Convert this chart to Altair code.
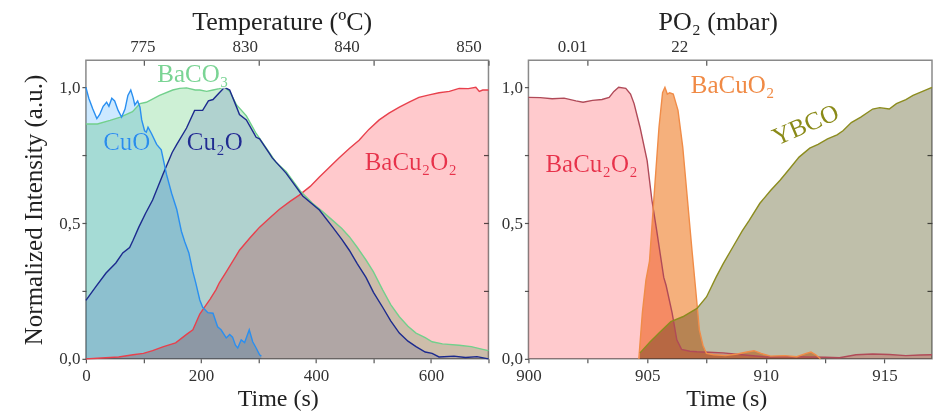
import altair as alt
import pandas as pd

FONT = "Liberation Serif"

# ---------------- Left panel data (Time in s) ----------------
cuo_t = [0, 5, 12, 19, 24, 30, 36, 40, 45, 50, 56, 62, 68, 73, 78, 82, 85, 90, 94, 97, 102, 105, 108, 114,
         123, 131, 140, 149, 158, 166, 172, 179, 186, 191, 198, 203, 212, 221, 229, 235, 244, 250, 255, 260,
         264, 270, 276, 284, 290, 296, 302, 305]
cuo_v = [1.0, 0.96, 0.92, 0.885, 0.90, 0.93, 0.945, 0.93, 0.96, 0.95, 0.915, 0.89, 0.92, 0.97, 0.99, 0.963,
         0.935, 0.95, 0.927, 0.88, 0.84, 0.835, 0.853, 0.83, 0.79, 0.77, 0.68, 0.61, 0.55, 0.47, 0.43, 0.39,
         0.32, 0.28, 0.217, 0.19, 0.17, 0.168, 0.118, 0.107, 0.077, 0.09, 0.08, 0.05, 0.04, 0.07, 0.06, 0.107,
         0.063, 0.04, 0.015, 0.01]

baco3_t = [0, 20, 42, 60, 81, 94, 105, 128, 151, 163, 175, 190, 198, 210, 221, 232, 241, 250, 262, 279, 296,
           314, 330, 348, 374, 394, 410, 429, 445, 458, 472, 487, 500, 516, 530, 545, 560, 574, 590, 602, 620,
           649, 670, 690, 700]
baco3_v = [0.865, 0.865, 0.878, 0.89, 0.91, 0.94, 0.945, 0.97, 0.99, 0.996, 0.998, 0.99, 0.99, 0.985, 0.99,
           0.995, 1.0, 0.985, 0.935, 0.895, 0.83, 0.775, 0.725, 0.69, 0.615, 0.573, 0.545, 0.51, 0.48, 0.45,
           0.41, 0.364, 0.32, 0.254, 0.2, 0.155, 0.12, 0.095, 0.078, 0.063, 0.055, 0.05, 0.045, 0.035, 0.03]

cu2o_t = [0, 17, 35, 52, 64, 76, 82, 92, 104, 116, 134, 150, 158, 175, 189, 203, 213, 221, 232, 241, 250,
          262, 267, 279, 296, 302, 319, 324, 348, 377, 406, 429, 445, 458, 472, 487, 500, 516, 530, 545, 560,
          574, 590, 602, 614, 640, 660, 680, 700]
cu2o_v = [0.215, 0.265, 0.316, 0.353, 0.39, 0.41, 0.437, 0.485, 0.537, 0.585, 0.68, 0.76, 0.79, 0.85, 0.915,
          0.915, 0.95, 0.955, 0.98, 1.0, 0.99, 0.927, 0.90, 0.88, 0.816, 0.81, 0.757, 0.74, 0.684, 0.60, 0.548,
          0.485, 0.44, 0.40, 0.35, 0.30, 0.245, 0.19, 0.14, 0.095, 0.065, 0.045, 0.025, 0.02, 0.007, 0.01,
          0.005, 0.008, 0.0]

bacu2o2_t = [0, 20, 42, 57, 82, 100, 116, 135, 156, 175, 186, 198, 203, 216, 226, 232, 244, 267, 285, 302,
             320, 336, 355, 371, 390, 406, 423, 440, 458, 475, 492, 510, 527, 545, 562, 579, 597, 614, 632,
             649, 665, 678, 684, 690, 700]
bacu2o2_v = [0.0, 0.002, 0.005, 0.007, 0.015, 0.02, 0.03, 0.045, 0.059, 0.09, 0.107, 0.165, 0.18, 0.22,
             0.254, 0.28, 0.32, 0.40, 0.445, 0.485, 0.52, 0.55, 0.58, 0.603, 0.635, 0.67, 0.705, 0.74, 0.775,
             0.805, 0.845, 0.88, 0.905, 0.927, 0.945, 0.963, 0.972, 0.98, 0.985, 0.996, 0.995, 1.0, 0.985,
             0.99, 0.99]

# ---------------- Right panel data (Time in s) ----------------
r_bacu2o2_t = [900.0, 900.5, 901.0, 901.5, 902.0, 902.3, 902.7, 903.1, 903.4, 903.6, 903.8, 904.1, 904.3,
               904.45, 904.7, 905.0, 905.2, 905.4, 905.7, 905.8, 906.05, 906.25, 906.45, 906.8, 907.1, 907.6,
               908.2, 909.0, 910.0, 911.0, 911.7, 912.5, 913.1, 913.8, 914.5, 915.2, 915.9, 916.5, 917.0]
r_bacu2o2_v = [0.963, 0.962, 0.958, 0.96, 0.95, 0.945, 0.952, 0.955, 0.963, 0.985, 1.0, 0.996, 0.975, 0.94,
               0.853, 0.73, 0.585, 0.474, 0.30, 0.27, 0.17, 0.07, 0.035, 0.028, 0.026, 0.024, 0.022, 0.015,
               0.007, 0.008, 0.007, 0.006, 0.004, 0.015, 0.018, 0.016, 0.012, 0.014, 0.015]

bacuo2_t = [904.65, 904.8, 904.95, 905.1, 905.3, 905.5, 905.65, 905.75, 905.85, 905.95, 906.1, 906.3, 906.5,
            906.7, 906.9, 907.05, 907.2, 907.35, 907.5, 907.8, 908.3, 908.8, 909.2, 909.5, 909.8, 910.2,
            910.8, 911.3, 911.7, 911.9, 912.1, 912.3]
bacuo2_v = [0.0, 0.17, 0.29, 0.36, 0.61, 0.853, 0.98, 1.0, 0.975, 0.98, 0.975, 0.915, 0.78, 0.585, 0.39, 0.25,
            0.107, 0.05, 0.02, 0.015, 0.012, 0.018, 0.025, 0.03, 0.02, 0.01, 0.012, 0.008, 0.02, 0.025, 0.015,
            0.0]

ybco_t = [904.7, 905.1, 905.5, 906.0, 906.5, 907.1, 907.5, 907.9, 908.2, 908.6, 909.0, 909.3, 909.75, 910.2,
          910.6, 911.0, 911.4, 911.85, 912.2, 912.6, 913.0, 913.25, 913.6, 914.0, 914.5, 914.8, 915.2, 915.5,
          915.9, 916.2, 916.6, 917.0]
ybco_v = [0.022, 0.06, 0.095, 0.137, 0.155, 0.186, 0.228, 0.30, 0.35, 0.41, 0.47, 0.51, 0.573, 0.62, 0.658,
          0.70, 0.743, 0.776, 0.79, 0.81, 0.825, 0.84, 0.87, 0.89, 0.92, 0.925, 0.92, 0.94, 0.955, 0.97,
          0.985, 1.0]

# ---------------- Labels ----------------
left_names = ["BaCu2O2", "BaCO3", "Cu2O", "CuO"]
left_fill = ["#ffc9cc", "#cdf0d5", "#dbe0f8", "#cde9ff"]
left_line = ["#e8404c", "#72d08c", "#1c2a8e", "#2a8ff0"]

right_names = ["rBaCu2O2", "BaCuO2", "YBCO"]
right_fill = ["#ffcacd", "#f5b07c", "#bfbfaa"]
right_line = ["#b04a58", "#f08c48", "#8c8c1e"]

left_lab_text = ["BaCO₃", "CuO", "Cu₂O", "BaCu₂O₂"]
left_lab_t = [186, 71, 224, 565]
left_lab_v = [1.02, 0.768, 0.768, 0.695]
left_lab_col = ["#7ad494", "#2a8fe8", "#1e2d8f", "#e8324a"]
left_lab_halo = [3, 0, 0, 0]

right_lab_text = ["BaCu₂O₂", "BaCuO₂", "YBCO"]
right_lab_t = [902.66, 908.6, 911.8]
right_lab_v = [0.687, 0.978, 0.835]
right_lab_col = ["#e8324a", "#f08a45", "#8a8a18"]
right_lab_angle = [0, 0, 337]
right_lab_halo = [0, 0, 3]

temp_ticks = [100, 300, 500, 700]
temp_label_t = [99, 277, 454, 666]
temp_labels = ["775", "830", "840", "850"]

po2_ticks = [902.5, 907.5]
po2_label_t = [901.86, 906.37]
po2_labels = ["0.01", "22"]


def long(series):
    rows = []
    for name, ts, vs in series:
        for t, v in zip(ts, vs):
            rows.append({"s": name, "t": t, "v": v})
    return pd.DataFrame(rows)


YLABEL = "(datum.value * 4) % 2 == 0 ? replace(format(datum.value, '.1f'), '.', ',') : ''"
INWARD = {"expr": "-5"}
H = 299


def panel(df, names, fills, lines, xdom, xvals, xlabelexpr, topticks, lab_df, toplab_df, title, title_dx,
          ytitle, W, xtitle_x):
    xs = alt.Scale(domain=xdom, nice=False, zero=False)
    ys = alt.Scale(domain=[0, 1.1], nice=False)
    yaxis_left = alt.Axis(orient="left", values=[0, 0.25, 0.5, 0.75, 1.0], labelExpr=YLABEL,
                          title=ytitle, domain=False, tickSize=4, labelPadding=2, titlePadding=12,
                          labelFlush=False)
    area = alt.Chart(df).mark_area(blend="multiply", interpolate="linear").encode(
        x=alt.X("t:Q", scale=xs, axis=alt.Axis(orient="bottom", values=xvals, labelExpr=xlabelexpr,
                                                 title="Time (s)", titleFontSize=24, domain=False,
                                                 tickSize=4, labelPadding=5, titlePadding=3,
                                                 labelFlush=False, titleX=xtitle_x)),
        y=alt.Y("v:Q", scale=ys, stack=None, axis=yaxis_left),
        fill=alt.Fill("s:N", scale=alt.Scale(domain=names, range=fills), legend=None),
    )
    line = alt.Chart(df).mark_line(strokeWidth=1.4, interpolate="linear").encode(
        x=alt.X("t:Q", scale=xs, axis=alt.Axis(orient="top", values=topticks, labels=False,
                                                 tickSize=INWARD, domain=False, title=None)),
        y=alt.Y("v:Q", scale=ys, axis=alt.Axis(orient="right", values=[0.25, 0.5, 0.75], labels=False,
                                                 tickSize=INWARD, domain=False, title=None)),
        stroke=alt.Stroke("s:N", scale=alt.Scale(domain=names, range=lines), legend=None),
    )
    halo = alt.Chart(lab_df).mark_text(font=FONT, fontSize=25, align="center", baseline="alphabetic",
                                       stroke="white", strokeJoin="round", opacity=0.9).encode(
        x=alt.X("t:Q", scale=xs, axis=None),
        y=alt.Y("v:Q", scale=ys, axis=None),
        text="text:N",
        color=alt.value("white"),
        strokeWidth=alt.StrokeWidth("h:Q", scale=None),
        angle=alt.Angle("a:Q", scale=None),
    )
    labels = alt.Chart(lab_df).mark_text(font=FONT, fontSize=25, align="center",
                                         baseline="alphabetic").encode(
        x=alt.X("t:Q", scale=xs, axis=None),
        y=alt.Y("v:Q", scale=ys, axis=None),
        text="text:N",
        color=alt.Color("c:N", scale=None),
        angle=alt.Angle("a:Q", scale=None),
    )
    toplab = alt.Chart(toplab_df).mark_text(font=FONT, fontSize=17, align="center", baseline="alphabetic",
                                            color="#333").encode(
        x=alt.X("t:Q", scale=xs, axis=None),
        y=alt.value(-8),
        text="label:N",
    )
    return alt.layer(area, line, halo, labels, toplab).resolve_axis(x="independent", y="independent").properties(
        width=W, height=H,
        title=alt.Title(title, font=FONT, fontSize=26, fontWeight="normal", color="#222", offset=3,
                        dx=title_dx),
    )


left_df = long([("BaCu2O2", bacu2o2_t, bacu2o2_v), ("BaCO3", baco3_t, baco3_v),
                ("Cu2O", cu2o_t, cu2o_v), ("CuO", cuo_t, cuo_v)])
right_df = long([("rBaCu2O2", r_bacu2o2_t, r_bacu2o2_v), ("BaCuO2", bacuo2_t, bacuo2_v),
                 ("YBCO", ybco_t, ybco_v)])

left_lab = pd.DataFrame({"t": left_lab_t, "v": left_lab_v, "text": left_lab_text, "c": left_lab_col,
                         "a": [0] * len(left_lab_t), "h": left_lab_halo})
right_lab = pd.DataFrame({"t": right_lab_t, "v": right_lab_v, "text": right_lab_text, "c": right_lab_col,
                          "a": right_lab_angle, "h": right_lab_halo})
left_top = pd.DataFrame({"t": temp_label_t, "label": temp_labels})
right_top = pd.DataFrame({"t": po2_label_t, "label": po2_labels})

left = panel(left_df, left_names, left_fill, left_line, [0, 700], [0, 100, 200, 300, 400, 500, 600, 700],
             "datum.value % 200 == 0 ? datum.label : ''", temp_ticks, left_lab, left_top,
             "Temperature (ºC)", -5, "Normalized Intensity (a.u.)", 403, 192)
right = panel(right_df, right_names, right_fill, right_line, [900, 917],
              [900, 902.5, 905, 907.5, 910, 912.5, 915],
              "datum.value % 5 == 0 ? format(datum.value, 'd') : ''", po2_ticks, right_lab, right_top,
              "PO₂  (mbar)", -12, None, 404, 198)

chart = alt.hconcat(left, right, spacing=8).resolve_scale(
    fill="independent", stroke="independent"
).properties(
    padding={"left": 12, "top": 0, "right": 0, "bottom": 0}
).configure_view(stroke="#8a8a8a", strokeWidth=1.5).configure_axis(
    labelFont=FONT, titleFont=FONT, labelFontSize=17, titleFontSize=25, labelColor="#333",
    titleColor="#222", titleFontWeight="normal", tickColor="#555", tickWidth=1.2, grid=False
)

chart.save("out.html", embed_options={"renderer": "svg", "actions": False})
